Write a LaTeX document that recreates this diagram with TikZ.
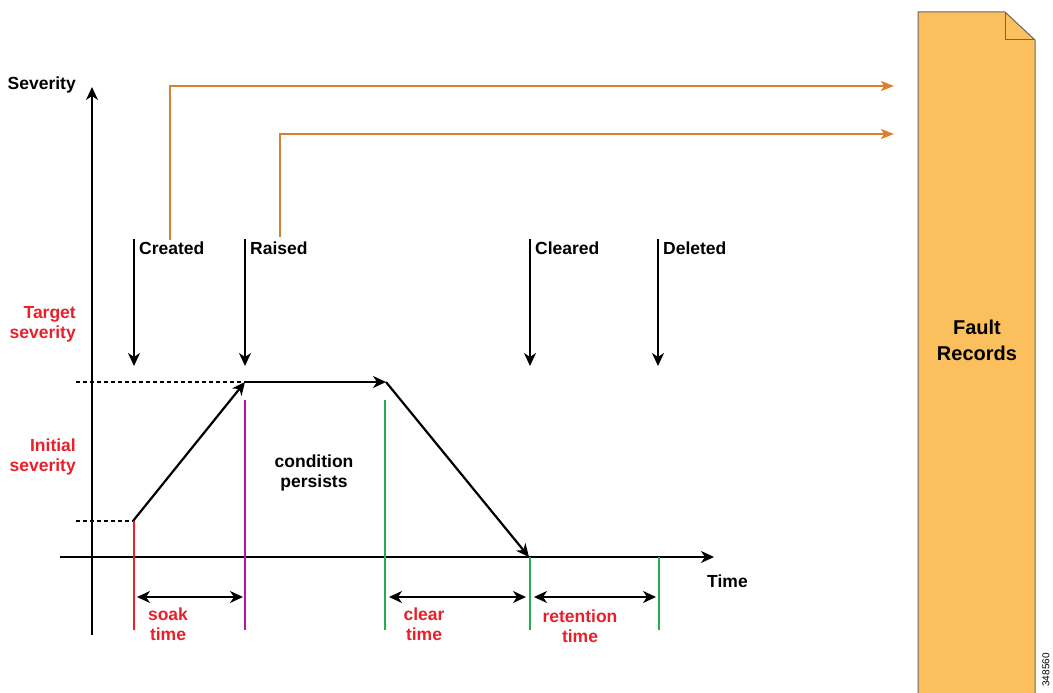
\documentclass[tikz,border=0pt]{standalone}
\usepackage{fontspec}
\setmainfont{Liberation Sans}
\usetikzlibrary{arrows.meta,positioning}
\definecolor{feedorange}{HTML}{D9822B}
\definecolor{recfill}{HTML}{FCBF5E}
\definecolor{sevred}{HTML}{E8202A}
\definecolor{soakpink}{HTML}{B5189F}
\definecolor{cleargreen}{HTML}{1FAF55}

\begin{document}
\begin{tikzpicture}[x=1pt,y=-1pt,>={Stealth[length=13pt,width=12pt,inset=4pt]},
  every node/.style={font=\bfseries\fontsize{17.5}{20}\selectfont,inner sep=1pt,align=center},
  axis/.style={->,line width=2pt},
  event/.style={->,line width=2pt},
  feed/.style={-{Stealth[length=13pt,width=10pt,inset=3pt]},draw=feedorange,line width=2pt},
  guide/.style={dash pattern=on 4pt off 3pt,line width=1.6pt},
  curve/.style={->,line width=2.2pt},
  tickline/.style={line width=1.8pt},
  span/.style={<->,line width=2pt},
  redtxt/.style={text=sevred,align=center},
  redlab/.style={text=sevred,align=right}]
  \useasboundingbox (0,0) rectangle (1053,693);

  % axes
  \coordinate (ybot) at (92,635);
  \coordinate (ytop) at (92,87);
  \coordinate (xleft) at (60,557);
  \coordinate (xright) at (714,557);
  \draw[axis] (ybot) -- (ytop);
  \draw[axis] (xleft) -- (xright);
  \node[anchor=east] (sev) at (77,85) {Severity};
  \node[anchor=west] (time) at (706,581) {Time};

  % severity levels
  \node[redlab,anchor=east] (target) at (77,324) {Target\\severity};
  \node[redlab,anchor=east] (initial) at (77,457) {Initial\\severity};

  % fault curve
  \coordinate (p0) at (133,521);
  \coordinate (p1) at (245,382);
  \coordinate (p2) at (386,382);
  \coordinate (p3) at (529,557);
  \draw[guide] (76,521) -- (p0);
  \draw[guide] (76,382) -- (p1);
  \draw[curve] (p0) -- (p1);
  \draw[curve] (p1) -- (p2);
  \draw[curve] (p2) -- (p3);
  \node (persist) at (314,473) {condition\\persists};

  % event arrows
  \foreach \x/\name/\lab in {134/created/Created,245/raised/Raised,530/cleared/Cleared,658/deleted/Deleted}{
    \coordinate (\name top) at (\x,239);
    \coordinate (\name bot) at (\x,366);
    \draw[event] (\name top) -- (\name bot);
    \node[anchor=west] (\name) at (\x+4,248) {\lab};
  }

  % records
  \coordinate (rec1) at (894,86);
  \coordinate (rec2) at (894,134);
  \draw[feed] (170,240) |- (rec1);
  \draw[feed] (280,237) |- (rec2);
  \draw[draw=gray!80!black,fill=recfill,line width=1pt]
    (918,12) -- (1005,12) -- (1035,40) -- (1035,700) -- (918,700) -- cycle;
  \draw[draw=gray!80!black,line width=1pt] (1005,12) -- (1005,40) -- (1035,40);
  \node[font=\bfseries\fontsize{20}{26}\selectfont] (records) at (977,340) {Fault\\Records};
  \node[rotate=90,anchor=east,font=\fontsize{10}{11}\selectfont] (figid) at (1046,652) {348560};

  % time spans
  \draw[tickline,sevred] (134,521) -- (134,630);
  \draw[tickline,soakpink] (245,400) -- (245,630);
  \draw[tickline,cleargreen] (385,400) -- (385,630);
  \draw[tickline,cleargreen] (530,557) -- (530,630);
  \draw[tickline,cleargreen] (659,557) -- (659,630);
  \draw[span] (137,597) -- (243,597);
  \draw[span] (389,597) -- (526,597);
  \draw[span] (534,597) -- (656,597);
  \node[redtxt] (soak) at (168,624) {soak\\time};
  \node[redtxt] (clear) at (424,624) {clear\\time};
  \node[redtxt] (retain) at (580,626) {retention\\time};
\end{tikzpicture}
\end{document}
